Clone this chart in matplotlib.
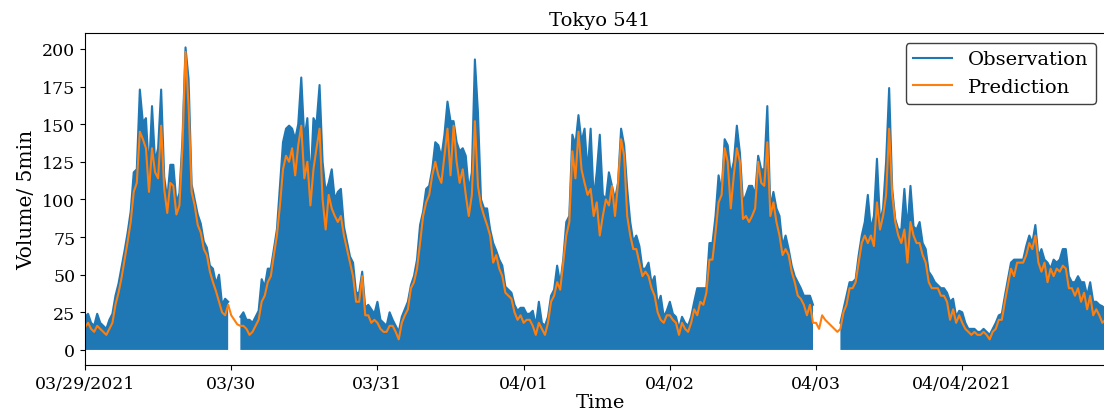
import numpy as np
import pandas as pd
import matplotlib
matplotlib.use("Agg")
import matplotlib.pyplot as plt

nan = np.nan

# half-hourly readings, one list per day (00:00 .. 23:30)
obs_0329 = [22, 24, 18, 16, 24, 18, 16, 14, 20, 24, 36, 44, 55, 66, 78, 92,
            118, 120, 173, 151, 154, 118, 162, 125, 134, 173, 115, 100, 123, 123, 98, 104,
            140, 201, 180, 110, 100, 90, 84, 72, 68, 56, 54, 44, 50, 30, 34, 32]
pred_0329 = [15, 18, 14, 12, 16, 14, 12, 10, 14, 18, 30, 38, 48, 60, 72, 85,
             105, 111, 145, 140, 134, 105, 134, 118, 114, 149, 107, 91, 111, 109, 90, 96,
             135, 198, 162, 105, 96, 83, 78, 67, 63, 52, 45, 39, 32, 25, 23, 30]

obs_0330 = [nan, nan, nan, 22, 25, 20, 20, 18, 22, 26, 47, 42, 54, 54, 67, 80,
            109, 138, 147, 149, 147, 140, 150, 181, 140, 154, 110, 154, 150, 176, 125, 105,
            111, 120, 100, 105, 107, 82, 72, 62, 58, 38, 38, 52, 28, 30, 27, 24]
pred_0330 = [23, 20, 17, 16, 16, 14, 10, 12, 16, 20, 32, 36, 45, 49, 63, 76,
             96, 120, 129, 125, 134, 116, 136, 149, 114, 125, 96, 120, 134, 147, 100, 80,
             103, 94, 89, 85, 89, 76, 67, 58, 49, 32, 32, 49, 23, 23, 18, 20]

obs_0331 = [32, 20, 18, 16, 25, 20, 16, 12, 22, 27, 32, 43, 49, 60, 83, 92,
            107, 109, 120, 138, 136, 128, 143, 165, 152, 152, 138, 132, 134, 129, 106, 118,
            193, 158, 100, 94, 94, 80, 71, 66, 60, 56, 42, 40, 38, 30, 26, 28]
pred_0331 = [18, 14, 12, 12, 16, 16, 12, 7, 18, 23, 27, 41, 45, 54, 71, 89,
             98, 103, 116, 125, 116, 111, 129, 147, 116, 149, 125, 111, 120, 103, 89, 103,
             152, 109, 96, 89, 83, 76, 58, 63, 54, 49, 38, 36, 34, 25, 20, 23]

obs_0401 = [28, 24, 24, 26, 16, 32, 18, 16, 22, 36, 40, 56, 44, 60, 85, 89,
            143, 136, 156, 138, 147, 118, 147, 100, 118, 143, 103, 100, 118, 109, 100, 111,
            147, 136, 107, 85, 72, 76, 69, 54, 54, 58, 44, 49, 30, 36, 22, 26]
pred_0401 = [18, 20, 20, 16, 10, 18, 14, 10, 18, 32, 36, 45, 40, 58, 76, 85,
             132, 114, 145, 120, 111, 103, 107, 89, 98, 76, 89, 100, 96, 109, 89, 111,
             140, 129, 89, 76, 67, 67, 58, 49, 52, 49, 41, 36, 25, 20, 18, 23]

obs_0402 = [32, 24, 22, 14, 22, 18, 16, 22, 32, 41, 41, 41, 41, 71, 71, 89,
            116, 105, 140, 136, 116, 125, 149, 131, 98, 103, 109, 109, 103, 129, 120, 120,
            162, 94, 105, 94, 89, 69, 76, 67, 56, 49, 45, 41, 36, 36, 36, 30]
pred_0402 = [23, 20, 18, 10, 18, 14, 12, 18, 27, 23, 32, 30, 38, 60, 60, 78,
             98, 103, 134, 125, 94, 116, 134, 125, 87, 89, 85, 89, 94, 125, 111, 109,
             138, 89, 98, 85, 76, 63, 67, 63, 52, 45, 36, 34, 30, 23, 30, 18]

obs_0403 = [nan, nan, nan, nan, nan, nan, nan, nan, 18, 27, 36, 45, 45, 47, 63, 76,
            85, 103, 80, 89, 127, 85, 94, 125, 174, 107, 87, 80, 80, 107, 80, 109,
            82, 80, 85, 71, 67, 52, 49, 45, 43, 41, 41, 38, 32, 34, 22, 26]
pred_0403 = [18, 14, 23, 20, 18, 16, 14, 12, 14, 25, 30, 41, 41, 45, 58, 71,
             76, 71, 76, 69, 98, 80, 89, 103, 147, 103, 85, 76, 71, 80, 58, 85,
             76, 71, 71, 63, 58, 45, 41, 41, 41, 36, 36, 32, 20, 27, 18, 23]

obs_0404 = [25, 18, 14, 14, 14, 12, 12, 14, 12, 10, 14, 18, 23, 24, 36, 47,
            58, 60, 60, 60, 60, 69, 76, 71, 83, 62, 67, 60, 58, 54, 60, 58,
            60, 67, 67, 49, 45, 45, 49, 45, 45, 36, 45, 32, 32, 30, 29, 27]
pred_0404 = [18, 14, 12, 10, 12, 10, 10, 12, 10, 7, 12, 14, 20, 20, 32, 43,
             54, 49, 58, 58, 58, 63, 71, 67, 76, 58, 52, 58, 45, 54, 49, 54,
             52, 56, 54, 41, 41, 36, 41, 32, 38, 27, 36, 23, 27, 23, 18, 20]

day_labels = ["03/29/2021", "03/30", "03/31", "04/01", "04/02", "04/03", "04/04/2021"]

observation = np.array(obs_0329 + obs_0330 + obs_0331 + obs_0401 + obs_0402 + obs_0403 + obs_0404, dtype=float)
prediction = np.array(pred_0329 + pred_0330 + pred_0331 + pred_0401 + pred_0402 + pred_0403 + pred_0404, dtype=float)
t = pd.date_range("2021-03-29 00:00", periods=len(observation), freq="30min")

plt.rcParams['font.family'] = ['DejaVu Serif']
plt.rcParams['font.size'] = 14

fig = plt.figure(figsize=(11.04, 4.14), dpi=100)
ax = fig.add_axes([0.077, 0.116, 0.933, 0.802])

ax.fill_between(t, observation, color='C0', linewidth=0)
ax.plot(t, observation, color='C0', linewidth=1.5, label='Observation')
ax.plot(t, prediction, color='C1', linewidth=1.5, label='Prediction')

start = pd.Timestamp("2021-03-29")
ax.set_xlim(start, start + pd.Timedelta(days=7.045))
ax.set_ylim(-10, 210.6)
ax.set_yticks(np.arange(0, 201, 25))
ax.set_xticks(pd.date_range(start, periods=7, freq="D"))
ax.set_xticklabels(day_labels)
ax.tick_params(labelsize=12.5)

ax.set_title("Tokyo 541", fontsize=14)
ax.set_xlabel("Time", fontsize=14, labelpad=1)
ax.set_ylabel("Volume/ 5min", fontsize=14.5)
leg = ax.legend(loc='upper right', bbox_to_anchor=(0.991, 1.0), fontsize=14)
leg.get_frame().set_edgecolor('0.25')
leg.get_frame().set_alpha(1)

fig.savefig("out.png", dpi=100)
